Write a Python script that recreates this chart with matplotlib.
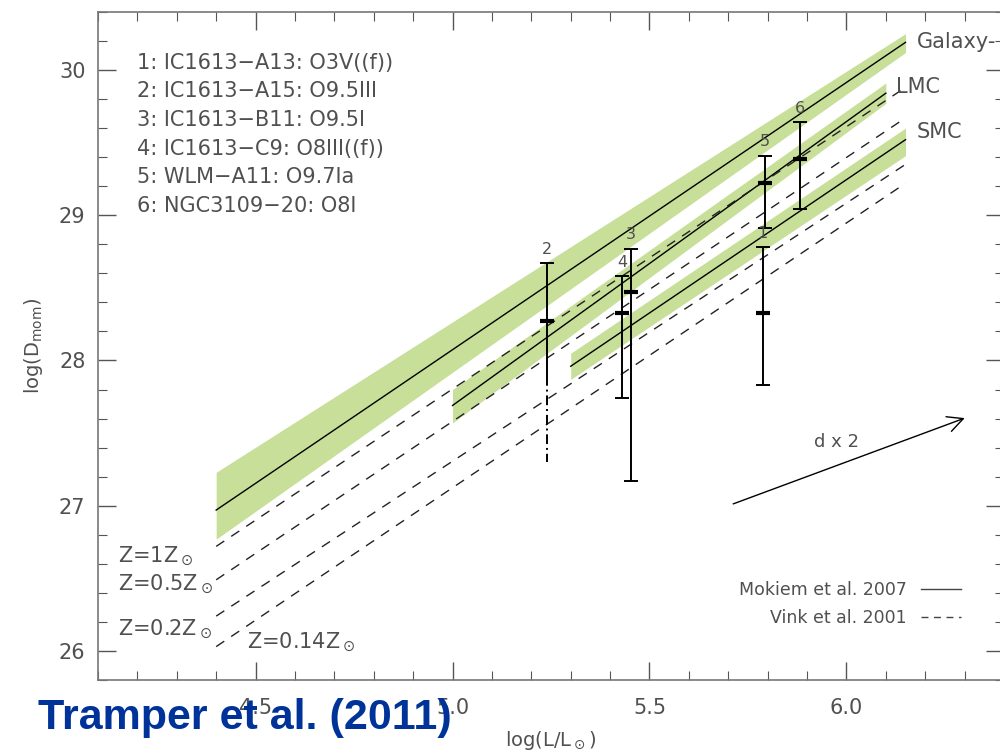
import matplotlib
matplotlib.use('Agg')
import matplotlib.pyplot as plt
from matplotlib.lines import Line2D

# --- data ---
# Mokiem et al. 2007 relations: x ends, centre line, band upper/lower
gal_x = [4.4, 6.15]
gal_y = [26.97, 30.19]
gal_up = [27.23, 30.25]
gal_lo = [26.77, 30.12]

lmc_x = [5.0, 6.1]
lmc_y = [27.69, 29.84]
lmc_up = [27.80, 29.91]
lmc_lo = [27.57, 29.77]

smc_x = [5.3, 6.15]
smc_y = [27.96, 29.52]
smc_up = [28.05, 29.60]
smc_lo = [27.87, 29.41]

# Vink et al. 2001 predictions for several metallicities
vink_x = [4.4, 6.15]
vink_z1 = [26.72, 29.88]
vink_z05 = [26.49, 29.67]
vink_z02 = [26.24, 29.35]
vink_z014 = [26.03, 29.22]

# observed stars
star_id = ['1', '2', '3', '4', '5', '6']
star_x = [5.787, 5.239, 5.452, 5.431, 5.794, 5.883]
star_y = [28.33, 28.27, 28.47, 28.33, 29.22, 29.39]
star_hi = [28.78, 28.67, 28.77, 28.58, 29.41, 29.64]
star_lo = [27.83, 27.89, 27.17, 27.74, 28.91, 29.04]
star2_limit = 27.30   # dash-dot extension of star 2

star_list = ['1: IC1613\u2212A13: O3V((f))',
             '2: IC1613\u2212A15: O9.5III',
             '3: IC1613\u2212B11: O9.5I',
             '4: IC1613\u2212C9: O8III((f))',
             '5: WLM\u2212A11: O9.7Ia',
             '6: NGC3109\u221220: O8I']

grey = '#505050'
green = '#c7df98'

fig = plt.figure(figsize=(10, 7.55), dpi=100)
ax = fig.add_axes([0.098, 0.0993, 0.906, 0.885])

# bands
ax.fill_between(gal_x, gal_lo, gal_up, color=green, lw=0, zorder=1)
ax.fill_between(lmc_x, lmc_lo, lmc_up, color=green, lw=0, zorder=1)
ax.fill_between(smc_x, smc_lo, smc_up, color=green, lw=0, zorder=1)

# Mokiem lines
for xx, yy in [(gal_x, gal_y), (lmc_x, lmc_y), (smc_x, smc_y)]:
    ax.plot(xx, yy, '-', color='black', lw=1.0, zorder=2)

# Vink lines
for yy in [vink_z1, vink_z05, vink_z02, vink_z014]:
    ax.plot(vink_x, yy, color='#222222', lw=1.0, ls=(0, (7, 6)), zorder=2)

# error bars
for i in range(len(star_x)):
    if star_id[i] == '2':
        ax.errorbar([star_x[i]], [star_y[i]], yerr=[[0], [star_hi[i] - star_y[i]]],
                    fmt='none', ecolor='black', elinewidth=1.4, capsize=5, capthick=1.4, zorder=4)
        ax.plot([star_x[i], star_x[i]], [star_y[i], star_lo[i]], '-', color='black', lw=1.4, zorder=4)
        ax.plot([star_x[i], star_x[i]], [star_lo[i], star2_limit], color='black', lw=1.4,
                ls=(0, (5, 2, 1, 2)), zorder=4)
    else:
        ax.errorbar([star_x[i]], [star_y[i]],
                    yerr=[[star_y[i] - star_lo[i]], [star_hi[i] - star_y[i]]],
                    fmt='none', ecolor='black', elinewidth=1.4, capsize=5, capthick=1.4, zorder=4)
    ax.plot([star_x[i]], [star_y[i]], marker='_', color='black', ms=10, mew=3, zorder=5)
    ax.annotate(star_id[i], (star_x[i], star_hi[i]), xytext=(0, 10), textcoords='offset points',
                ha='center', va='center', fontsize=11.5, color=grey, zorder=5)

# model labels
ax.text(6.178, 30.19, 'Galaxy-', fontsize=15, color=grey, va='center', ha='left')
ax.text(6.127, 29.88, 'LMC', fontsize=15, color=grey, va='center', ha='left')
ax.text(6.178, 29.57, 'SMC', fontsize=15, color=grey, va='center', ha='left')

ax.text(4.15, 26.65, r'Z=1Z$_\odot$', fontsize=15, color=grey, va='center')
ax.text(4.15, 26.46, r'Z=0.5Z$_\odot$', fontsize=15, color=grey, va='center')
ax.text(4.15, 26.15, r'Z=0.2Z$_\odot$', fontsize=15, color=grey, va='center')
ax.text(4.477, 26.06, r'Z=0.14Z$_\odot$', fontsize=15, color=grey, va='center')

# star list
for i, s in enumerate(star_list):
    ax.text(4.2, 30.05 - i * 0.197, s, fontsize=15, color=grey, va='center')

# d x 2 arrow
ax.annotate('', xy=(6.307, 27.61), xytext=(5.706, 27.006),
            arrowprops=dict(arrowstyle='->', lw=1.0, color='black', mutation_scale=28))
ax.text(5.975, 27.44, 'd x 2', fontsize=13, color=grey, ha='center', va='center')

# legend
handles = [Line2D([], [], color='#444444', lw=1.0, ls='-'),
           Line2D([], [], color='#444444', lw=1.0, ls=(0, (5, 4)))]
ax.legend(handles, ['Mokiem et al. 2007', 'Vink et al. 2001'], loc='lower right',
          bbox_to_anchor=(0.962, 0.066), frameon=False, markerfirst=False,
          fontsize=12.5, handlelength=2.3, labelspacing=0.6, borderpad=0,
          labelcolor=grey)

ax.set_xlim(4.1, 6.4)
ax.set_ylim(25.8, 30.4)
ax.set_xticks([4.5, 5.0, 5.5, 6.0])
ax.set_xticklabels(['4.5', '5.0', '5.5', '6.0'])
ax.set_yticks([26, 27, 28, 29, 30])
ax.set_xticks([x / 10 for x in range(41, 65)], minor=True)
ax.set_yticks([26 + i * 0.2 for i in range(-1, 23)], minor=True)
ax.tick_params(which='both', direction='in', top=True, right=True, colors='#555555',
               labelsize=15, labelcolor=grey)
ax.tick_params(which='major', length=13, width=1.0, pad=9)
ax.tick_params(which='minor', length=6.5, width=0.8)
ax.tick_params(axis='x', which='major', pad=13)
for sp in ax.spines.values():
    sp.set_color('#777777')
    sp.set_linewidth(1.2)

ax.set_xlabel(r'log(L/L$_\odot$)', fontsize=14, color=grey, labelpad=8)
ax.set_ylabel(r'log(D$_{\rm mom}$)', fontsize=14, color=grey, labelpad=10)

fig.text(0.038, 0.049, 'Tramper et al. (2011)', fontsize=31, fontweight='bold',
         color='#003399', va='center', ha='left',
         family=['Liberation Sans Narrow', 'Liberation Sans', 'DejaVu Sans'])

fig.savefig('out.png', dpi=100)
